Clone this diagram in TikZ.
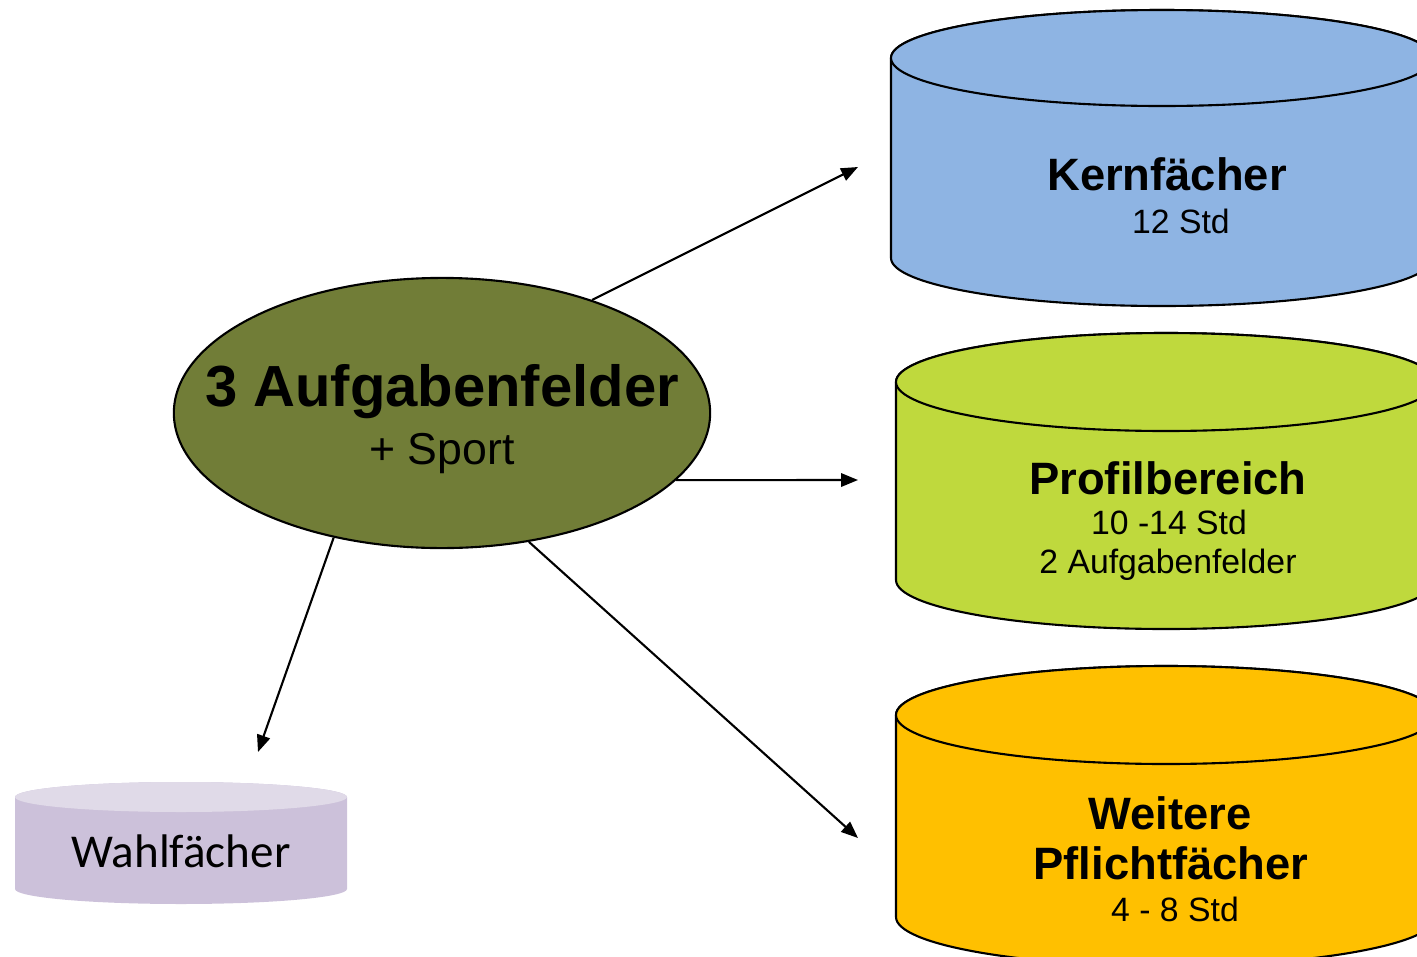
\documentclass[tikz,border=0pt]{standalone}
\usepackage{fontspec}
\setmainfont{Liberation Sans}
\newfontfamily\wahlfont{Carlito}
\usepackage{tikz}
\usetikzlibrary{arrows.meta,shapes.geometric}
\definecolor{olive}{RGB}{113,125,55}
\definecolor{kernblue}{RGB}{142,180,227}
\definecolor{profgreen}{RGB}{191,217,61}
\definecolor{weiterorange}{RGB}{255,192,0}
\definecolor{wahlbody}{RGB}{204,193,218}
\definecolor{wahltop}{RGB}{224,218,232}
\tikzset{
  pfeil/.style={-{Triangle[length=4.8pt,width=3.8pt]},line width=0.6pt},
  titel/.style={anchor=base,inner sep=0pt,font=\bfseries\fontsize{12.9}{14}\selectfont},
  zeile/.style={anchor=base,inner sep=0pt,font=\fontsize{9.6}{11}\selectfont}
}
% #1 cx, #2 top, #3 bottom, #4 rx, #5 ry, #6 colour
\newcommand{\trommel}[6]{%
  \draw[line width=0.6pt,fill=#6] (#1-#4,#2) -- (#1-#4,#3)
    arc[start angle=180,end angle=360,x radius=#4,y radius=#5]
    -- (#1+#4,#2) arc[start angle=0,end angle=180,x radius=#4,y radius=#5] -- cycle;
  \draw[line width=0.6pt,fill=#6] (#1,#2) ellipse[x radius=#4,y radius=#5];
}
\begin{document}
\begin{tikzpicture}[x=0.01cm,y=0.01cm]
\useasboundingbox (0,0) rectangle (1417,956);
\clip (0,0) rectangle (1417,956);
% Zylinder
\trommel{1162}{898}{698}{271}{48}{kernblue}
\trommel{1166}{574}{376}{270}{49}{profgreen}
\trommel{1166}{241}{39}{270}{49}{weiterorange}
\fill[wahlbody] (15,159) -- (15,67) arc[start angle=180,end angle=360,x radius=166,y radius=15]
  -- (347,159) arc[start angle=0,end angle=180,x radius=166,y radius=15] -- cycle;
\fill[wahltop] (181,159) ellipse[x radius=166,y radius=15];
% Mitte
\node[ellipse,draw,line width=0.6pt,fill=olive,minimum width=5.36cm,minimum height=2.70cm] (aufg) at (442,543) {};
\node[anchor=base,inner sep=0pt,font=\bfseries\fontsize{16.5}{18}\selectfont] (aufgtitel) at (442,550) {3 Aufgabenfelder};
\node[anchor=base,inner sep=0pt,font=\fontsize{12.7}{14}\selectfont] (sport) at (442,492) {+ Sport};
% Texte
\node[titel] (kern) at (1167,766) {Kernfächer};
\node[zeile] (kernstd) at (1181,723) {12 Std};
\node[titel] (profil) at (1168,462) {Profilbereich};
\node[zeile] (profilstd) at (1169,422) {10 -14 Std};
\node[zeile] (profilfeld) at (1168,383) {2 Aufgabenfelder};
\node[titel] (weitere) at (1170,127) {Weitere};
\node[titel] (pflicht) at (1171,77) {Pflichtfächer};
\node[zeile] (pflichtstd) at (1175,35) {4 - 8 Std};
\node[anchor=base,inner sep=0pt,font=\wahlfont\fontsize{13.4}{15}\selectfont] (wahl) at (181,89) {Wahlfächer};
% Pfeile
\coordinate (zkern) at (858,789);
\coordinate (zprofil) at (858,476);
\coordinate (zpflicht) at (858,118);
\coordinate (zwahl) at (258,204);
\draw[pfeil] (aufg.37.8) -- (zkern);
\draw[pfeil] (aufg.-16) -- (zprofil);
\draw[pfeil] (aufg.-56.8) -- (zpflicht);
\draw[pfeil] (aufg.229.5) -- (zwahl);
\end{tikzpicture}
\end{document}
